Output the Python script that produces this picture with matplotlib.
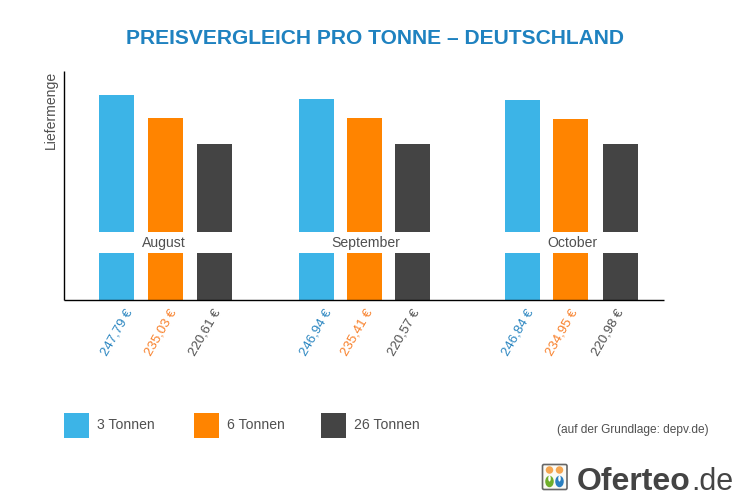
import matplotlib
matplotlib.use('Agg')
import matplotlib.pyplot as plt
from matplotlib.patches import Rectangle, Ellipse, FancyBboxPatch

plt.rcParams['font.family'] = ['Liberation Sans', 'DejaVu Sans']

MONTHS = ['August', 'September', 'October']
SERIES = ['3 Tonnen', '6 Tonnen', '26 Tonnen']
# bar heights
HEIGHT_3T = [205, 201, 200]
HEIGHT_6T = [182, 182, 181]
HEIGHT_26T = [156, 156, 156]
PRICE_3T = ['247,79 €', '246,94 €', '246,84 €']
PRICE_6T = ['235,03 €', '235,41 €', '234,95 €']
PRICE_26T = ['220,61 €', '220,57 €', '220,98 €']

BLUE = '#3cb4e7'
ORANGE = '#ff8400'
DARK = '#444444'
TEXT = '#505050'
BLUE_TXT = '#2a85c0'
ORANGE_TXT = '#f8802a'

fig = plt.figure(figsize=(7.5, 5.03), dpi=100)
W, H = 750, 503

# axes box in pixels, x and y scale 1:1 with the image
ax = fig.add_axes([64 / W, 1 - 300 / H, 600 / W, 229 / H])
ax.set_xlim(64, 664)
ax.set_ylim(0, 229)
for s in ['top', 'right']:
    ax.spines[s].set_visible(False)
for s in ['left', 'bottom']:
    ax.spines[s].set_linewidth(1.0)
    ax.spines[s].set_color('black')
    ax.spines[s].set_capstyle('butt')
ax.set_xticks([])
ax.set_yticks([])

centers = [[116.5, 165.5, 214.5], [316.5, 364.5, 412.5], [522.5, 570.5, 620.5]]
label_x = [[116.5, 161, 205.5], [315.5, 357.5, 403.5], [517.5, 561.5, 607.5]]
month_x = [164, 366, 572]
heights = [HEIGHT_3T, HEIGHT_6T, HEIGHT_26T]
prices = [PRICE_3T, PRICE_6T, PRICE_26T]
colors = [BLUE, ORANGE, DARK]
txt_colors = [BLUE_TXT, ORANGE_TXT, TEXT]

for m in range(3):
    for i in range(3):
        ax.bar(centers[m][i], heights[i][m], width=35, color=colors[i], linewidth=0, zorder=2)
        ax.text(label_x[m][i], -32.5, prices[i][m], rotation=60, ha='center', va='center',
                fontsize=9.5, color=txt_colors[i], clip_on=False)
    # white band behind the month name
    ax.add_patch(Rectangle((centers[m][0] - 18, 47), centers[m][2] - centers[m][0] + 36, 21,
                           color='white', linewidth=0, zorder=3))
    ax.text(month_x[m], 53, MONTHS[m], ha='center', va='baseline', fontsize=10.1,
            color=TEXT, zorder=4)

# overlay in image pixels for everything outside the plot
ov = fig.add_axes([0, 0, 1, 1], zorder=5)
ov.set_xlim(0, W)
ov.set_ylim(H, 0)
ov.axis('off')

ov.text(375, 38.5, 'PREISVERGLEICH PRO TONNE – DEUTSCHLAND', ha='center', va='center',
        fontsize=15.15, fontweight='bold', color='#1f82c0')
ov.text(51, 110, 'Liefermenge', rotation=90, ha='center', va='center', fontsize=10.1, color=TEXT)

for x, lab, c in zip([64, 194, 321], SERIES, colors):
    ov.add_patch(Rectangle((x, 413), 25, 25, color=c, linewidth=0))
    ov.text(x + 33, 429, lab, ha='left', va='baseline', fontsize=10.1, color=TEXT)

ov.text(632.5, 430.5, '(auf der Grundlage: depv.de)', ha='center', va='center', fontsize=8.6, color=TEXT)

# logo
ov.add_patch(FancyBboxPatch((542.5, 464.5), 24.5, 25, boxstyle='round,pad=0,rounding_size=1.5',
                            fc='#fbfaf4', ec='#666666', lw=1.2))
for cx, body in [(549.5, '#6fae2a'), (559.5, '#2a7fc0')]:
    ov.add_patch(Ellipse((cx, 470), 7.5, 7.5, color='#f5a650', linewidth=0))
    ov.add_patch(Ellipse((cx, 481.5), 8.5, 11.5, color=body, linewidth=0))
    ov.add_patch(Ellipse((cx, 478.5), 2.5, 6, color='white', linewidth=0))
ov.text(577, 489.5, 'Oferteo', ha='left', va='baseline', fontsize=23, fontweight='bold', color='#444444')
ov.text(691, 489.5, '.de', ha='left', va='baseline', fontsize=22, color='#444444')

fig.savefig('out.png', dpi=100)
